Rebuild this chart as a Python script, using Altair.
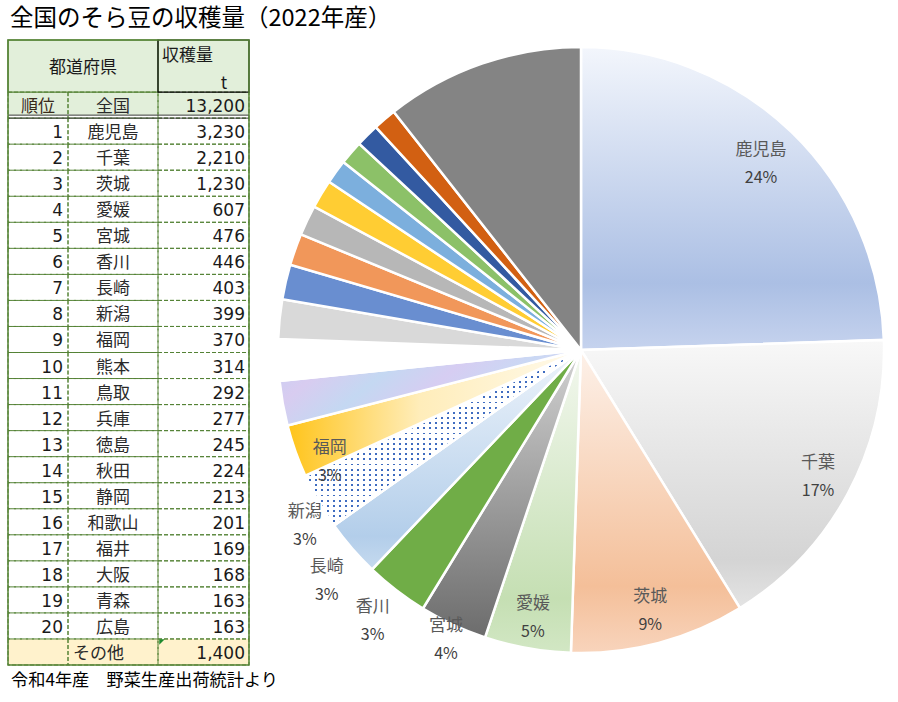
import math
import altair as alt
import pandas as pd

# ---------------- data ----------------
ranks = list(range(1, 21))
prefs = ["鹿児島", "千葉", "茨城", "愛媛", "宮城", "香川", "長崎", "新潟", "福岡", "熊本",
         "鳥取", "兵庫", "徳島", "秋田", "静岡", "和歌山", "福井", "大阪", "青森", "広島"]
values = [3230, 2210, 1230, 607, 476, 446, 403, 399, 370, 314,
          292, 277, 245, 224, 213, 201, 169, 168, 163, 163]
other_label = "その他"
other_value = 1400
total_label = "全国"
total_value = 13200

TITLE = "全国のそら豆の収穫量（2022年産）"
SOURCE = "令和4年産　野菜生産出荷統計より"
HEAD_PREF = "都道府県"
HEAD_VALUE = "収穫量"
HEAD_UNIT = "t"
TOTAL_RANK = "順位"

JP = "Noto Sans CJK JP"
NUM = "DejaVu Sans"

# ---------------- styles ----------------
def lin(stops, x1=0, y1=0, x2=0, y2=1):
    return alt.LinearGradient(gradient="linear", x1=x1, y1=y1, x2=x2, y2=y2,
                              stops=[alt.GradientStop(offset=o, color=c) for o, c in stops])

def stripes(color, n, duty, horizontal):
    st = []
    for k in range(n):
        a = k / n
        b = (k + duty) / n
        st += [(a, color), (b, color), (b, "rgba(255,255,255,0)"), ((k + 1) / n, "rgba(255,255,255,0)")]
    st = [(min(o, 1.0), c) for o, c in st]
    if horizontal:
        return lin(st, 0, 0, 0, 1)
    return lin(st, 0, 0, 1, 0)

slice_fill = {
    "鹿児島": lin([(0, "#F3F6FC"), (0.78, "#ABBFE4"), (1, "#C6D3EE")]),
    "千葉": lin([(0, "#F8F8F8"), (0.82, "#D4D4D4"), (1, "#E4E4E4")]),
    "茨城": lin([(0, "#FDF1E9"), (0.78, "#F4BF99"), (1, "#F8D4BC")]),
    "愛媛": lin([(0, "#F3F8EF"), (0.82, "#C5DFB3"), (1, "#D2E7C4")]),
    "宮城": lin([(0, "#D2D2D2"), (1, "#6C6C6C")]),
    "香川": "#70AD47",
    "長崎": lin([(0, "#EEF4FB"), (0.85, "#B3CEEA"), (1, "#C6DAEF")]),
    "新潟": "#FFFFFF",
    "福岡": lin([(0, "#FFC41A"), (0.45, "#FFEDBA"), (1, "#FFFAEC")], 0, 0, 1, 0),
    "熊本": lin([(0, "#C6D0F4"), (0.2, "#D8CCF0"), (0.4, "#C4D8F2"), (0.6, "#D6CDF2"),
                 (0.8, "#CAD8F4"), (1, "#DBD5F2")], 0, 0, 1, 0.3),
    "鳥取": "#FFFFFF",
    "兵庫": "#D9D9D9",
    "徳島": "#698ED0",
    "秋田": "#F1975A",
    "静岡": "#B7B7B7",
    "和歌山": "#FFCD33",
    "福井": "#7CAFDD",
    "大阪": "#8CC168",
    "青森": "#335AA1",
    "広島": "#D26012",
    "その他": "#848484",
}

CX, CY, R = 581, 350, 303
GREEN = "#548235"

# label placement (radius, dx, dy) — mimics the spreadsheet's best-fit labels
label_place = {
    "鹿児島": (259, 0, 0), "千葉": (269, 0, 0), "茨城": (270, 0, 0), "愛媛": (272, 0, 0),
    "宮城": (320, 0, 0), "香川": (342, 0, 0), "長崎": (343, 5, 6), "新潟": (328, 8, 12),
    "福岡": (275, 8, 20),
}

# ---------------- pie ----------------
pie_df = pd.DataFrame({"pref": prefs + [other_label],
                       "value": values + [other_value],
                       "order": list(range(len(prefs) + 1))})
pie_total = int(pie_df["value"].sum())

pie_base = alt.Chart(pie_df).transform_window(
    cum="sum(value)", frame=[None, 0], sort=[alt.SortField("order")]
).transform_calculate(
    start="datum.cum - datum.value",
    mid="datum.cum - datum.value / 2",
    pct="format(datum.value / %d, '.0%%')" % pie_total,
)
theta_scale = alt.Scale(domain=[0, pie_total], range=[0, 2 * math.pi])

def arc_layer(p, fill, stroke=True):
    kw = dict(fill=fill, outerRadius=R)
    if stroke:
        kw.update(stroke="white", strokeWidth=2.5)
    else:
        kw.update(strokeWidth=0)
    return pie_base.transform_filter(alt.datum.pref == p).mark_arc(**kw).encode(
        x=alt.value(CX), y=alt.value(CY),
        theta=alt.Theta("start:Q", scale=theta_scale, stack=False),
        theta2=alt.Theta2("cum:Q"),
    )

layers = []
for p in pie_df["pref"]:
    layers.append(arc_layer(p, slice_fill[p]))
    if p == "新潟":
        layers.append(arc_layer(p, stripes("#3F6CC0", 34, 0.36, True), stroke=False))
        layers.append(arc_layer(p, stripes("#FFFFFF", 46, 0.6, False)))

for p, (rad, dx, dy) in label_place.items():
    sel = pie_base.transform_filter(alt.datum.pref == p)
    enc = dict(x=alt.value(CX), y=alt.value(CY),
               theta=alt.Theta("mid:Q", scale=theta_scale, stack=False))
    layers.append(sel.mark_text(radius=rad, dx=dx, dy=dy - 14, fontSize=17, font=JP,
                                color="#595959").encode(text="pref:N", **enc))
    layers.append(sel.mark_text(radius=rad, dx=dx, dy=dy + 14, fontSize=16, font=JP,
                                color="#404040").encode(text="pct:N", **enc))

# ---------------- table ----------------
rows = [dict(pos=0, span=2, kind="head", rank="", name=HEAD_PREF, val=HEAD_VALUE),
        dict(pos=2, span=1, kind="total", rank=TOTAL_RANK, name=total_label, val=f"{total_value:,}")]
for r, p, v in zip(ranks, prefs, values):
    rows.append(dict(pos=2 + r, span=1, kind="data", rank=str(r), name=p, val=f"{v:,}"))
rows.append(dict(pos=3 + len(ranks), span=1, kind="other", rank="", name=other_label,
                 val=f"{other_value:,}"))
tbl = pd.DataFrame(rows)
nslots = int((tbl["pos"] + tbl["span"]).max())

yscale = alt.Scale(domain=[0, nslots], range=[40, 665])
tb = alt.Chart(tbl).transform_calculate(bottom="datum.pos + datum.span",
                                        mid="datum.pos + datum.span / 2")
Y = alt.Y("pos:Q", scale=yscale, axis=None)
Y2 = alt.Y2("bottom:Q")
YM = alt.Y("mid:Q", scale=yscale, axis=None)
TDY = 2

def kind_is(*ks):
    return alt.FieldOneOfPredicate(field="kind", oneOf=list(ks))

cols = [(8, 68), (68, 158), (158, 249)]

# fills
layers.append(tb.transform_filter(kind_is("head")).mark_rect(fill="#E2EFDA").encode(
    x=alt.value(8), x2=alt.value(249), y=Y, y2=Y2))
layers.append(tb.transform_filter(kind_is("total")).mark_rect(fill="#E2EFDA", y2Offset=-3).encode(
    x=alt.value(8), x2=alt.value(249), y=Y, y2=Y2))
layers.append(tb.transform_filter(kind_is("other")).mark_rect(fill="#FFF2CC").encode(
    x=alt.value(8), x2=alt.value(249), y=Y, y2=Y2))
# dashed cells
for a, b in cols:
    layers.append(tb.transform_filter(kind_is("total", "data", "other")).mark_rect(
        fillOpacity=0, stroke=GREEN, strokeWidth=1, strokeDash=[4, 2]).encode(
        x=alt.value(a), x2=alt.value(b), y=Y, y2=Y2))
# header cells
layers.append(tb.transform_filter(kind_is("head")).mark_rect(
    fillOpacity=0, stroke=GREEN, strokeWidth=1.2).encode(
    x=alt.value(8), x2=alt.value(158), y=Y, y2=Y2))
layers.append(tb.transform_filter(kind_is("head")).mark_rect(
    fillOpacity=0, stroke="#000000", strokeWidth=1.2).encode(
    x=alt.value(158), x2=alt.value(249), y=Y, y2=Y2))
# double line under total row
for off in (0, -3):
    layers.append(tb.transform_filter(kind_is("total")).mark_rule(
        color="#3A3A3A", strokeWidth=1, yOffset=off).encode(
        x=alt.value(8), x2=alt.value(249), y=alt.Y("bottom:Q", scale=yscale, axis=None)))
# outer frame
layers.append(tb.transform_aggregate(top="min(pos)", bottom="max(bottom)").mark_rect(
    fillOpacity=0, stroke=GREEN, strokeWidth=1.5).encode(
    x=alt.value(8), x2=alt.value(249),
    y=alt.Y("top:Q", scale=yscale, axis=None), y2=alt.Y2("bottom:Q")))
# error indicator triangle
layers.append(tb.transform_filter(kind_is("other")).mark_point(
    shape="M -1 -1 L 1 -1 L -1 1 Z", filled=True, color="#1F8A2E", size=30, opacity=1,
    xOffset=3, yOffset=3).encode(x=alt.value(159), y=Y))

# texts
layers.append(tb.transform_filter(kind_is("head")).mark_text(
    fontSize=17, font=JP, color="#1A1A1A", dy=TDY).encode(x=alt.value(83), y=YM, text="name:N"))
layers.append(tb.transform_filter(kind_is("head")).mark_text(
    fontSize=17, font=JP, color="#1A1A1A", align="left", dy=-10).encode(
    x=alt.value(162), y=YM, text="val:N"))
unit_df = pd.DataFrame({"u": [HEAD_UNIT]})
layers.append(alt.Chart(unit_df).mark_text(fontSize=17, font=JP, color="#1A1A1A").encode(
    x=alt.value(224), y=alt.value(84), text="u:N"))

layers.append(tb.transform_filter(kind_is("total")).mark_text(
    fontSize=17, font=JP, color="#3A2A1A", dy=TDY).encode(x=alt.value(38), y=YM, text="rank:N"))
layers.append(tb.transform_filter(kind_is("data")).mark_text(
    fontSize=17, font=NUM, color="#1A1A1A", align="right", dy=TDY).encode(
    x=alt.value(63), y=YM, text="rank:N"))
layers.append(tb.transform_filter(kind_is("total", "data")).mark_text(
    fontSize=17, font=JP, color="#2A2A2A", dy=TDY).encode(x=alt.value(113), y=YM, text="name:N"))
layers.append(tb.transform_filter(kind_is("other")).mark_text(
    fontSize=17, font=JP, color="#2A2A2A", align="left", dy=TDY).encode(
    x=alt.value(73), y=YM, text="name:N"))
layers.append(tb.transform_filter(kind_is("total", "data", "other")).mark_text(
    fontSize=17, font=NUM, color="#1A1A1A", align="right", dy=TDY).encode(
    x=alt.value(245), y=YM, text="val:N"))

# title & source
layers.append(alt.Chart(pd.DataFrame({"t": [TITLE]})).mark_text(
    align="left", baseline="middle", fontSize=23.5, font=JP, color="#000000").encode(
    x=alt.value(10), y=alt.value(19), text="t:N"))
layers.append(alt.Chart(pd.DataFrame({"t": [SOURCE]})).mark_text(
    align="left", baseline="middle", fontSize=17.2, font=JP, color="#000000").encode(
    x=alt.value(11), y=alt.value(681), text="t:N"))

chart = alt.layer(*layers).properties(
    width=898, height=702,
    autosize=alt.AutoSizeParams(type="none"),
    padding=0, background="white",
).configure_view(stroke=None)

chart.save("out.html", embed_options={"renderer": "svg", "actions": False})
